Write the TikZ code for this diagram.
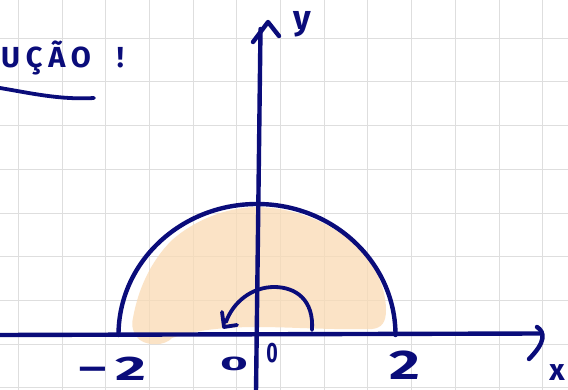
\documentclass[tikz,border=0pt]{standalone}
\usepackage{fontspec}
\setmainfont{Fira Sans}
\definecolor{ink}{RGB}{10,12,122}
\definecolor{peach}{RGB}{250,218,180}
\definecolor{gridgray}{RGB}{222,222,222}
\begin{document}
\begin{tikzpicture}[x=1pt,y=-1pt,
  inkline/.style={draw=ink,line width=4.4pt,line cap=round,line join=round},
  thinink/.style={draw=ink,line width=3.8pt,line cap=round,line join=round},
  hand/.style={text=ink,font=\bfseries,inner sep=0pt}]
\useasboundingbox (0,0) rectangle (568,390);
\fill[white] (0,0) rectangle (568,390);
% grid
\foreach \k in {0,...,12} \draw[gridgray,line width=1pt] ({18.3+43.7*\k},0) -- ({18.3+43.7*\k},390);
\foreach \k in {0,...,8} \draw[gridgray,line width=1pt] (0,{38.3+43.7*\k}) -- (568,{38.3+43.7*\k});
% orange shading
\fill[peach,fill opacity=0.75] (133,318) .. controls (138,290) and (150,262) .. (172,240)
  .. controls (195,220) and (225,208) .. (255,207)
  .. controls (290,207) and (325,220) .. (350,240)
  .. controls (372,258) and (386,285) .. (386,310)
  .. controls (386,322) and (382,328) .. (372,329)
  .. controls (330,330) and (290,327) .. (257,327)
  .. controls (225,327) and (195,330) .. (172,338)
  .. controls (165,346) and (148,346) .. (140,340)
  .. controls (133,334) and (131,326) .. (133,318) -- cycle;
% semicircle
\coordinate (cL) at (118.5,335);
\draw[inkline] (cL) arc[start angle=180,end angle=360,x radius=138.5,y radius=131];
% axes
\coordinate (xs) at (0,335);
\coordinate (xe) at (540,333.5);
\draw[inkline] (xs) -- (xe);
\coordinate (ys) at (256,392);
\coordinate (ye) at (260.5,29);
\draw[inkline] (ys) -- (ye);
% axis arrowheads
\draw[inkline] (253,42) -- (268,22) -- (279,36);
\draw[inkline] (537,327) .. controls (545,332) and (546,342) .. (529,359);
% small rotation arc
\draw[thinink] (312,330) .. controls (314,300) and (296,287) .. (274,287)
  .. controls (252,287) and (233,302) .. (226,322);
\draw[thinink] (222,312) -- (224,327) -- (237,325);
% title underline
\draw[thinink] (0,88) .. controls (30,93) and (60,100) .. (94,98);
% labels
\node[hand,font=\bfseries\fontsize{29}{29}\selectfont\addfontfeature{LetterSpace=20},anchor=base west] (title) at (1,68) {UÇÃO\hspace{26pt}!};
\node[hand,font=\bfseries\fontsize{34}{34}\selectfont] (lm2) at (112,369) {\scalebox{1.75}[1]{−\hspace{4pt}2}};
\node[hand,font=\bfseries\fontsize{28}{28}\selectfont] (lo) at (234,364) {\scalebox{1.7}[0.7]{0}};
\node[hand,font=\bfseries\fontsize{28}{28}\selectfont] (ro) at (272,353) {\scalebox{0.7}[1]{0}};
\node[hand,font=\bfseries\fontsize{36}{36}\selectfont] (r2) at (405,365) {\scalebox{1.65}[1.15]{2}};
\node[hand,font=\bfseries\fontsize{30}{30}\selectfont] (xl) at (557,373) {x};
\node[hand,font=\bfseries\fontsize{34}{34}\selectfont] (yl) at (302,24) {y};
\end{tikzpicture}
\end{document}
